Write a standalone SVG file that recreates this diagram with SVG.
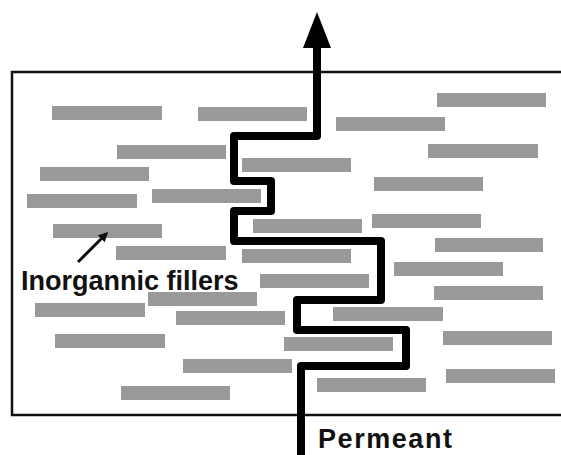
<svg xmlns="http://www.w3.org/2000/svg" width="561" height="455" viewBox="0 0 561 455">
<style>
.bar{fill:#999}
.lbl{font-family:"Liberation Sans",Arial,sans-serif;font-weight:bold;fill:#111}
</style>
<defs>
<marker id="ah" markerWidth="10" markerHeight="10" refX="7" refY="5" orient="auto" markerUnits="userSpaceOnUse">
<path d="M0,0 L10,5 L0,10 Z" fill="#111"/>
</marker>
</defs>
<rect width="561" height="455" fill="#fff"/>
<g id="membrane">
<rect x="12" y="72" width="560" height="343" fill="none" stroke="#111" stroke-width="2.5"/>
</g>
<g id="fillers">
<rect class="bar" x="52" y="106" width="110" height="14"/>
<rect class="bar" x="117" y="145" width="109" height="14"/>
<rect class="bar" x="40" y="167" width="109" height="14"/>
<rect class="bar" x="27" y="194" width="110" height="14"/>
<rect class="bar" x="53" y="224" width="109" height="14"/>
<rect class="bar" x="116" y="246" width="110" height="14"/>
<rect class="bar" x="35" y="303" width="110" height="14"/>
<rect class="bar" x="55" y="334" width="110" height="14"/>
<rect class="bar" x="121" y="386" width="109" height="14"/>
<rect class="bar" x="198" y="107" width="109" height="14"/>
<rect class="bar" x="242" y="158" width="109" height="14"/>
<rect class="bar" x="152" y="189" width="109" height="14"/>
<rect class="bar" x="253" y="219" width="109" height="14"/>
<rect class="bar" x="242" y="249" width="109" height="14"/>
<rect class="bar" x="260" y="274" width="109" height="14"/>
<rect class="bar" x="148" y="292" width="109" height="14"/>
<rect class="bar" x="176" y="311" width="109" height="14"/>
<rect class="bar" x="284" y="337" width="109" height="14"/>
<rect class="bar" x="183" y="359" width="109" height="14"/>
<rect class="bar" x="317" y="378" width="109" height="14"/>
<rect class="bar" x="437" y="93" width="109" height="14"/>
<rect class="bar" x="336" y="117" width="109" height="14"/>
<rect class="bar" x="428" y="144" width="110" height="14"/>
<rect class="bar" x="374" y="177" width="109" height="14"/>
<rect class="bar" x="372" y="214" width="109" height="14"/>
<rect class="bar" x="435" y="238" width="108" height="14"/>
<rect class="bar" x="394" y="262" width="109" height="14"/>
<rect class="bar" x="434" y="286" width="109" height="14"/>
<rect class="bar" x="333" y="307" width="110" height="14"/>
<rect class="bar" x="443" y="331" width="109" height="14"/>
<rect class="bar" x="446" y="369" width="109" height="14"/>
</g>
<g id="connectors">
<path d="M301,455 V366 H406 V330 H297 V300 H381 V241 H234 V211 H271 V181 H234 V136 H317 V44" fill="none" stroke="#000" stroke-width="8" stroke-linejoin="round"/>
<polygon points="317,12 331,48 303,48" fill="#000"/>
<line x1="78" y1="262" x2="106" y2="234" stroke="#111" stroke-width="3" marker-end="url(#ah)"/>
</g>
<g id="label-fillers">
<text class="lbl" x="21" y="290" font-size="27">Inorgannic fillers</text>
</g>
<g id="label-permeant">
<text class="lbl" x="318" y="448" font-size="27" textLength="134">Permeant</text>
</g>
</svg>
